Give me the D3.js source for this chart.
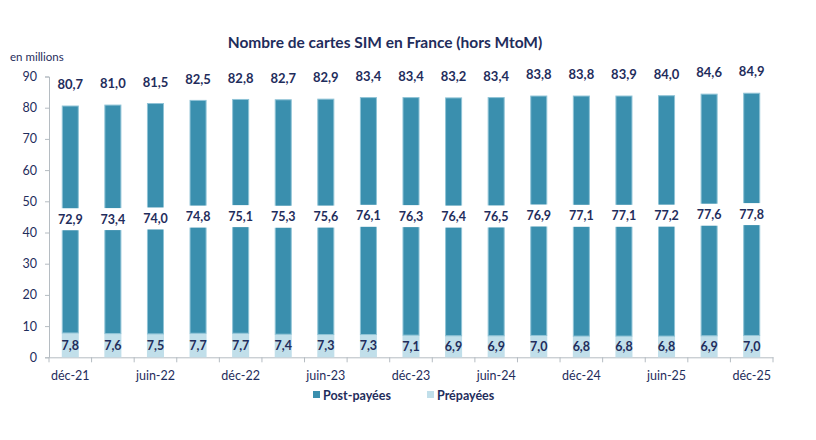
<!DOCTYPE html>
<html>
<head>
<meta charset="utf-8">
<script src="https://cdn.jsdelivr.net/npm/d3@7"></script>
<style>
  body { margin: 0; background: #fff; }
  svg { font-family: Lato, "Open Sans", sans-serif; }
</style>
</head>
<body>
<div id="chart"></div>
<script>
// données (en millions)
const trimestres = ["déc-21", "mars-22", "juin-22", "sept-22", "déc-22", "mars-23", "juin-23", "sept-23",
  "déc-23", "mars-24", "juin-24", "sept-24", "déc-24", "mars-25", "juin-25", "sept-25", "déc-25"];
const prepayees = [7.8, 7.6, 7.5, 7.7, 7.7, 7.4, 7.3, 7.3, 7.1, 6.9, 6.9, 7.0, 6.8, 6.8, 6.8, 6.9, 7.0];
const postpayees = [72.9, 73.4, 74.0, 74.8, 75.1, 75.3, 75.6, 76.1, 76.3, 76.4, 76.5, 76.9, 77.1, 77.1, 77.2, 77.6, 77.8];
const totaux = [80.7, 81.0, 81.5, 82.5, 82.8, 82.7, 82.9, 83.4, 83.4, 83.2, 83.4, 83.8, 83.8, 83.9, 84.0, 84.6, 84.9];
const yTicks = [0, 10, 20, 30, 40, 50, 60, 70, 80, 90];

const width = 816, height = 440;
const margin = { top: 76.5, right: 43, bottom: 82.7, left: 49 };
const navy = "#1f2d5c";
const cPost = "#3a8fae";
const cPre = "#c1dfea";
const fmt = (v) => d3.format(".1f")(v).replace(".", ",");

const svg = d3.select("#chart").append("svg").attr("width", width).attr("height", height);

const data = trimestres.map((t, i) => ({ t, pre: prepayees[i], post: postpayees[i], total: totaux[i] }));

const x = d3.scaleBand()
  .domain(trimestres)
  .range([margin.left, width - margin.right])
  .paddingInner(0.6)
  .paddingOuter(0.3);
const y = d3.scaleLinear().domain([0, 90]).range([height - margin.bottom, margin.top]);

// titre
svg.append("text")
  .attr("x", 385).attr("y", 48)
  .attr("text-anchor", "middle")
  .attr("font-size", 15.5).attr("font-weight", "bold")
  .attr("fill", navy)
  .text("Nombre de cartes SIM en France (hors MtoM)");

svg.append("text")
  .attr("x", 10).attr("y", 61)
  .attr("font-size", 11.5)
  .attr("fill", navy)
  .text("en millions");

// axe y
const yAxis = svg.append("g")
  .attr("transform", `translate(${margin.left},0)`)
  .call(d3.axisLeft(y).tickValues(yTicks).tickSize(4).tickPadding(8));
yAxis.select(".domain").attr("stroke", "#b5bcc2");
yAxis.selectAll(".tick line").attr("stroke", "#b5bcc2");
yAxis.selectAll("text").attr("font-size", 12.5).attr("fill", navy).attr("font-family", "Lato, sans-serif");

// axe x
const xAxis = svg.append("g")
  .attr("transform", `translate(0,${y(0)})`)
  .call(d3.axisBottom(x).tickValues(trimestres.filter((d, i) => i % 2 === 0)).tickSize(0).tickPadding(14));
xAxis.select(".domain").attr("stroke", "#b5bcc2");
xAxis.selectAll("text").attr("font-size", 12.5).attr("fill", navy).attr("font-family", "Lato, sans-serif");

// graduations entre les catégories
const bornes = d3.range(trimestres.length + 1).map((i) => x.range()[0] + i * x.step());
svg.append("g")
  .selectAll("line")
  .data(bornes)
  .join("line")
  .attr("x1", (d) => d).attr("x2", (d) => d)
  .attr("y1", y(0)).attr("y2", y(0) + 5)
  .attr("stroke", "#b5bcc2");

// barres
const bars = svg.append("g");
bars.selectAll(".pre")
  .data(data)
  .join("rect")
  .attr("class", "pre")
  .attr("x", (d) => x(d.t))
  .attr("width", x.bandwidth())
  .attr("y", (d) => y(d.pre))
  .attr("height", (d) => y(0) - y(d.pre))
  .attr("fill", cPre);

bars.selectAll(".post")
  .data(data)
  .join("rect")
  .attr("class", "post")
  .attr("x", (d) => x(d.t) + 0.5)
  .attr("width", x.bandwidth() - 1)
  .attr("y", (d) => y(d.pre + d.post) + 0.5)
  .attr("height", (d) => y(d.pre) - y(d.pre + d.post) - 0.5)
  .attr("fill", cPost)
  .attr("stroke", "#8fc3d6")
  .attr("stroke-width", 1);

// étiquettes post-payées avec fond blanc
const lblPost = svg.append("g")
  .selectAll("g")
  .data(data)
  .join("g")
  .attr("transform", (d) => `translate(${x(d.t) + x.bandwidth() / 2},${y(d.pre + d.post / 2)})`);
lblPost.append("rect")
  .attr("x", -19).attr("y", -11)
  .attr("width", 38).attr("height", 22)
  .attr("fill", "#fff");
lblPost.append("text")
  .attr("text-anchor", "middle")
  .attr("dy", "0.36em")
  .attr("font-size", 12.5).attr("font-weight", "bold")
  .attr("fill", navy)
  .text((d) => fmt(d.post));

// étiquettes prépayées
svg.append("g")
  .selectAll("text")
  .data(data)
  .join("text")
  .attr("x", (d) => x(d.t) + x.bandwidth() / 2)
  .attr("y", (d) => y(d.pre / 2))
  .attr("dy", "0.36em")
  .attr("text-anchor", "middle")
  .attr("font-size", 12.5).attr("font-weight", "bold")
  .attr("fill", navy)
  .text((d) => fmt(d.pre));

// étiquettes totaux
svg.append("g")
  .selectAll("text")
  .data(data)
  .join("text")
  .attr("x", (d) => x(d.t) + x.bandwidth() / 2)
  .attr("y", (d) => y(d.pre + d.post) - 21)
  .attr("dy", "0.36em")
  .attr("text-anchor", "middle")
  .attr("font-size", 13).attr("font-weight", "bold")
  .attr("fill", navy)
  .text((d) => fmt(d.total));

// légende
const legende = [
  { nom: "Post-payées", c: cPost, x: 313 },
  { nom: "Prépayées", c: cPre, x: 427 },
];
const lg = svg.append("g")
  .selectAll("g")
  .data(legende)
  .join("g")
  .attr("transform", (d) => `translate(${d.x},391)`);
lg.append("rect").attr("width", 7).attr("height", 7).attr("fill", (d) => d.c);
lg.append("text")
  .attr("x", 10).attr("y", 4).attr("dy", "0.36em")
  .attr("font-size", 12.5).attr("font-weight", "bold")
  .attr("fill", navy)
  .text((d) => d.nom);
</script>
</body>
</html>
